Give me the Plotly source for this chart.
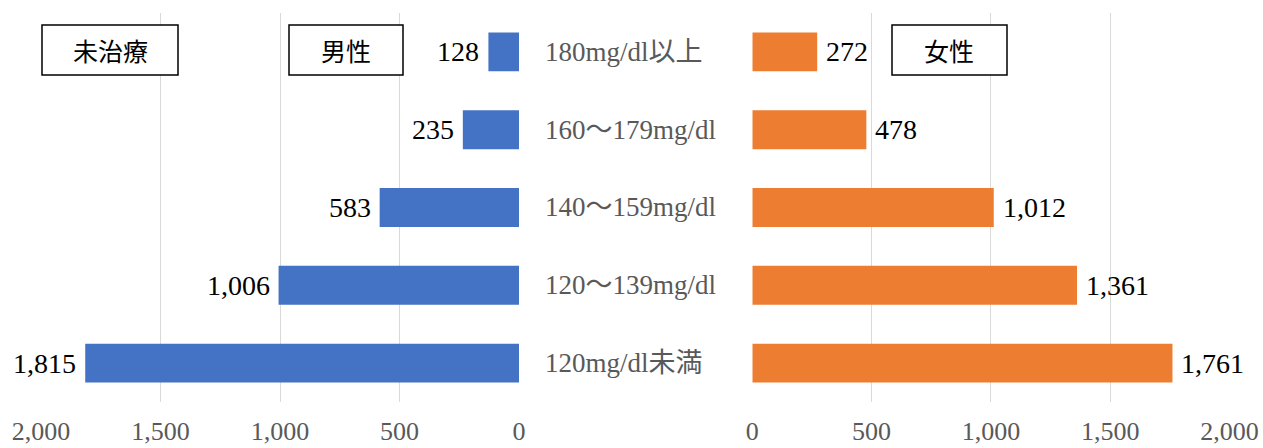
import plotly.graph_objects as go

# Cholesterol bands (top to bottom) and counts of untreated people
categories = ["180mg/dl以上", "160～179mg/dl", "140～159mg/dl", "120～139mg/dl", "120mg/dl未満"]
male = [128, 235, 583, 1006, 1815]
female = [272, 478, 1012, 1361, 1761]
tick_vals = [0, 500, 1000, 1500, 2000]
tick_text = ["0", "500", "1,000", "1,500", "2,000"]

W, H = 1263, 448
SERIF = "Liberation Serif, Times New Roman, Noto Sans CJK JP, serif"
GRID = "#d9d9d9"
GREY = "#595959"


def px_x(x):
    return x / W


def px_y(y):
    return 1 - y / H


fig = go.Figure()

bar_common = dict(orientation="h", yaxis="y", width=0.5,
                  showlegend=False, hoverinfo="x+y")
fig.add_trace(go.Bar(y=categories, x=male, xaxis="x",
                     marker=dict(color="#4472C4", line=dict(width=0)), **bar_common))
fig.add_trace(go.Bar(y=categories, x=female, xaxis="x2",
                     marker=dict(color="#ED7D31", line=dict(width=0)), **bar_common))

# Value labels just beyond each bar end
for c, v in zip(categories, male):
    fig.add_annotation(x=v, y=c, xref="x", yref="y", xanchor="right", yanchor="middle",
                       xshift=-7, text=f"{v:,}", showarrow=False,
                       font=dict(family=SERIF, size=28, color="#000000"))
for c, v in zip(categories, female):
    fig.add_annotation(x=v, y=c, xref="x2", yref="y", xanchor="left", yanchor="middle",
                       xshift=7, text=f"{v:,}", showarrow=False,
                       font=dict(family=SERIF, size=28, color="#000000"))

axis_common = dict(
    tickvals=tick_vals, ticktext=tick_text,
    showgrid=True, gridcolor=GRID, gridwidth=1,
    zeroline=False, showline=False, automargin=False,
    ticks="outside", ticklen=6, tickcolor="rgba(0,0,0,0)",
    tickfont=dict(family=SERIF, size=26, color=GREY),
    fixedrange=True,
)

fig.update_layout(
    width=W, height=H,
    margin=dict(l=0, r=0, t=0, b=0, autoexpand=False),
    paper_bgcolor="white", plot_bgcolor="white",
    bargap=0.5,
    xaxis=dict(domain=[px_x(41), px_x(519)], range=[2000, 0], anchor="y", **axis_common),
    xaxis2=dict(domain=[px_x(752.3), px_x(1229.5)], range=[0, 2000], anchor="y", **axis_common),
    yaxis=dict(domain=[px_y(402), px_y(13)], categoryorder="array",
               categoryarray=categories[::-1], showticklabels=False, automargin=False,
               showgrid=False, zeroline=False, showline=False, fixedrange=True),
)

# Band names between the two panels
for c in categories:
    fig.add_annotation(
        x=px_x(543), xref="paper", xanchor="left",
        y=c, yref="y", yanchor="middle",
        text=c, showarrow=False,
        font=dict(family=SERIF, size=27, color=GREY),
    )

# Boxed panel titles
boxes = [("未治療", 42, 178), ("男性", 289, 403), ("女性", 892, 1007)]
for label, x0, x1 in boxes:
    fig.add_shape(
        type="rect", xref="paper", yref="paper",
        x0=px_x(x0), x1=px_x(x1), y0=px_y(75), y1=px_y(25),
        line=dict(color="#000000", width=1.5), fillcolor="white",
        layer="above",
    )
    fig.add_annotation(
        x=px_x((x0 + x1) / 2), y=px_y(50), xref="paper", yref="paper",
        xanchor="center", yanchor="middle", text=label, showarrow=False,
        font=dict(family="Noto Sans CJK JP, sans-serif", size=25, color="#000000"),
    )

fig.write_html("out.html")
